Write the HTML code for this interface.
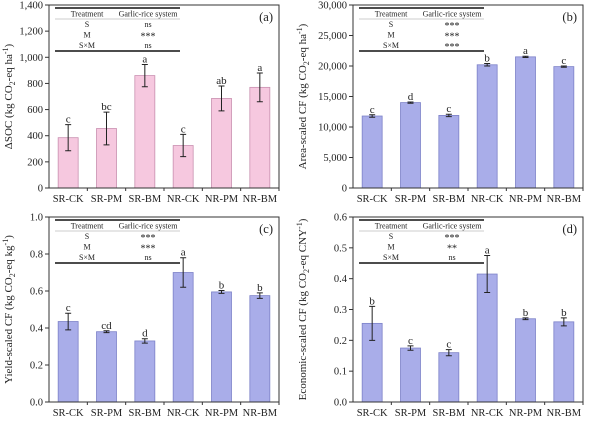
<!DOCTYPE html>
<html><head><meta charset="utf-8"><style>
body{margin:0;background:#fff;}
svg text{font-family:"Liberation Serif",serif;fill:#222;}
</style></head><body>
<svg id="fig" width="602" height="421" xmlns="http://www.w3.org/2000/svg"></svg>
<script>
const categories=["SR-CK","SR-PM","SR-BM","NR-CK","NR-PM","NR-BM"];
const valsA=[385,455,860,325,685,770];
const errA=[100,125,85,85,95,110];
const letA=["c","bc","a","c","ab","a"];
const valsB=[11800,14000,11900,20200,21500,19900];
const errB=[200,100,200,200,100,100];
const letB=["c","d","c","b","a","c"];
const valsC=[0.435,0.38,0.33,0.70,0.595,0.575];
const errC=[0.045,0.005,0.012,0.08,0.008,0.015];
const letC=["c","cd","d","a","b","b"];
const valsD=[0.255,0.175,0.16,0.415,0.27,0.26];
const errD=[0.055,0.007,0.01,0.06,0.003,0.013];
const letD=["b","c","c","a","b","b"];
const ticksA=["0","200","400","600","800","1,000","1,200","1,400"];
const ticksB=["0","5,000","10,000","15,000","20,000","25,000","30,000"];
const ticksC=["0.0","0.2","0.4","0.6","0.8","1.0"];
const ticksD=["0.0","0.1","0.2","0.3","0.4","0.5","0.6"];
const sigA=["ns","***","ns"], sigB=["***","***","***"], sigC=["***","***","ns"], sigD=["***","**","ns"];

const NS="http://www.w3.org/2000/svg";
const svg=document.getElementById('fig');
function mk(t,a,p){const e=document.createElementNS(NS,t);for(const k in a)e.setAttribute(k,a[k]);(p||svg).appendChild(e);return e;}

function panel(o){
  const g=mk('g',{});
  
  
  const {x0,x1,y0,y1,max}=o;
  const ys=v=>y1-(v/max)*(y1-y0);
  const step=(x1-x0)/6;
  const xs=i=>x0+step*(i+0.5);
  // ticks
  o.ticks.forEach((t,i)=>{
    const v=max*i/(o.ticks.length-1);const y=ys(v);
    const l=mk('line',{x1:x0-4,x2:x0,y1:y,y2:y,stroke:'#333','stroke-width':1},g);
    
    const tx=mk('text',{x:x0-6,y:y+3.5,'font-size':10.5,'text-anchor':'end'},g);tx.textContent=t;
    
  });
  // bars
  o.vals.forEach((v,i)=>{
    const cx=xs(i),w=20;
    const r=mk('rect',{x:cx-w/2,y:ys(v),width:w,height:y1-ys(v),fill:o.fill,stroke:o.stroke,'stroke-width':0.8},g);
    
    const e=o.err[i];
    const eb=mk('path',{d:`M${cx},${ys(v+e)}V${ys(v-e)}M${cx-3},${ys(v+e)}H${cx+3}M${cx-3},${ys(v-e)}H${cx+3}`,stroke:'#222','stroke-width':1,fill:'none'},g);
    
    const lt=mk('text',{x:cx,y:ys(v+e)-2,'font-size':11,'text-anchor':'middle'},g);lt.textContent=o.lets[i];
    
    const xl=mk('text',{x:cx,y:y1+14,'font-size':10.5,'text-anchor':'middle'},g);xl.textContent=categories[i];
    
    const xt=mk('line',{x1:x0+step*(i+1),x2:x0+step*(i+1),y1:y1,y2:y1+3,stroke:'#333'},g);
  });
  const fr=mk('rect',{x:x0,y:y0,width:x1-x0,height:y1-y0,fill:'none',stroke:'#333','stroke-width':1},g);
  
  const pl=mk('text',{x:x1-6,y:y0+16,'font-size':12.5,'text-anchor':'end'},g);pl.textContent='('+o.id+')';
  
  // inset table
  const tx0=x0+6,tx1=x0+131,c1=x0+38,c2=x0+99;
  const tb=mk('g',{},g);
  mk('line',{x1:tx0,x2:tx1,y1:y0+3,y2:y0+3,stroke:'#111','stroke-width':1.5},tb);
  mk('line',{x1:tx0,x2:tx1,y1:y0+14,y2:y0+14,stroke:'#999','stroke-width':0.6},tb);
  mk('line',{x1:tx0,x2:tx1,y1:y0+46,y2:y0+46,stroke:'#111','stroke-width':1.5},tb);
  const rows=[["Treatment","Garlic-rice  system"],["S",o.sig[0]],["M",o.sig[1]],["S×M",o.sig[2]]];
  rows.forEach((r,i)=>{const y=y0+11.5+i*10.5;
    const a=mk('text',{x:c1,y:y,'font-size':8,'text-anchor':'middle'},tb);a.textContent=r[0];
    const b=mk('text',{x:c2,y:y+(i&&r[1].includes('*')?2:0),'font-size':i&&r[1].includes('*')?10:8,'text-anchor':'middle'},tb);b.textContent=r[1];});
  const yt=mk('text',{x:0,y:0,'font-size':11,'text-anchor':'middle',transform:`translate(${o.tx},${(y0+y1)/2}) rotate(-90)`},g);
  yt.innerHTML=o.title;
  
}
const pink={fill:'#f6c8df',stroke:'#c98fb0'}, blue={fill:'#a9ade9',stroke:'#7d82c8'};
panel({id:'a',x0:49,x1:279,y0:5,y1:188,max:1400,vals:valsA,err:errA,lets:letA,ticks:ticksA,sig:sigA,tx:12,...pink,
 title:'ΔSOC (kg CO<tspan font-size="8" dy="3">2</tspan><tspan dy="-3">-eq ha</tspan><tspan font-size="8" dy="-4">-1</tspan><tspan dy="4">)</tspan>'});
panel({id:'b',x0:353,x1:583,y0:5,y1:188,max:30000,vals:valsB,err:errB,lets:letB,ticks:ticksB,sig:sigB,tx:306,...blue,
 title:'Area-scaled CF (kg CO<tspan font-size="8" dy="3">2</tspan><tspan dy="-3">-eq ha</tspan><tspan font-size="8" dy="-4">-1</tspan><tspan dy="4">)</tspan>'});
panel({id:'c',x0:49,x1:279,y0:217,y1:402,max:1.0,vals:valsC,err:errC,lets:letC,ticks:ticksC,sig:sigC,tx:12,...blue,
 title:'Yield-scaled CF (kg CO<tspan font-size="8" dy="3">2</tspan><tspan dy="-3">-eq kg</tspan><tspan font-size="8" dy="-4">-1</tspan><tspan dy="4">)</tspan>'});
panel({id:'d',x0:353,x1:583,y0:217,y1:402,max:0.6,vals:valsD,err:errD,lets:letD,ticks:ticksD,sig:sigD,tx:306,...blue,
 title:'Economic-scaled CF (kg CO<tspan font-size="8" dy="3">2</tspan><tspan dy="-3">-eq CNY</tspan><tspan font-size="8" dy="-4">-1</tspan><tspan dy="4">)</tspan>'});
</script>
</body></html>
